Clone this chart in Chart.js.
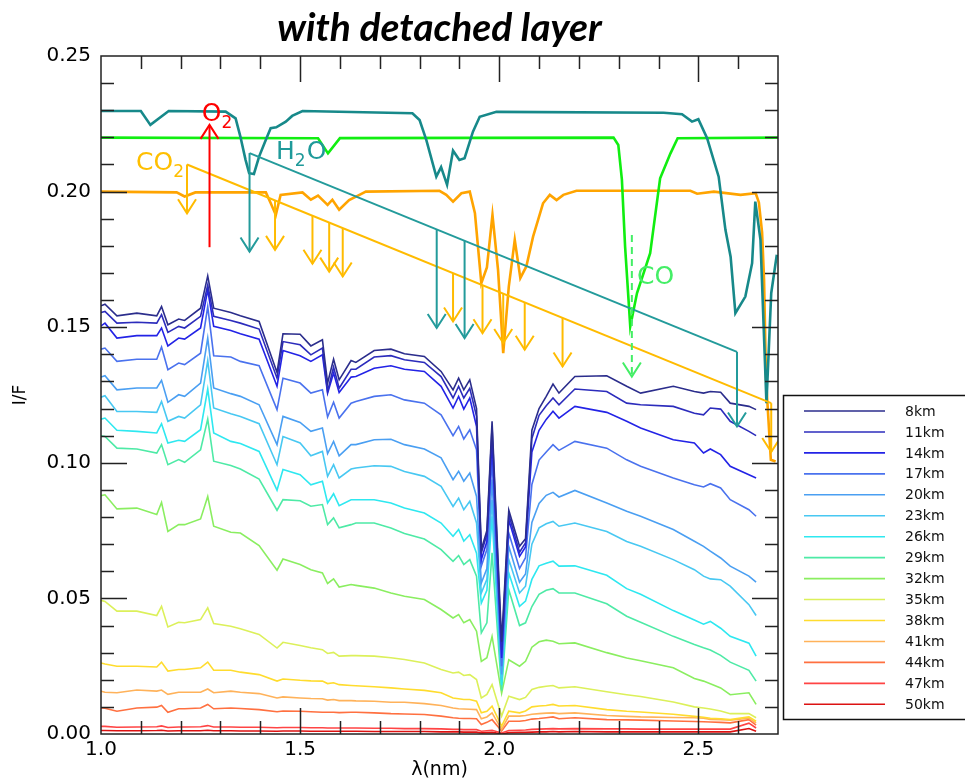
<!DOCTYPE html>
<html>
<head>
<meta charset="utf-8">
<title>with detached layer</title>
<script src="https://cdn.jsdelivr.net/npm/chart.js@4.4.1/dist/chart.umd.min.js"></script>
<style>
  html, body { margin: 0; padding: 0; background: #fff; }
  canvas { display: block; }
</style>
</head>
<body>
<canvas id="chart" width="965" height="781"></canvas>
<script>
// wavelength grid shared by all the altitude spectra
const wavelength = [
  1.000, 1.010, 1.040, 1.090, 1.140, 1.152, 1.168, 1.195, 1.210, 1.250,
  1.268, 1.283, 1.326, 1.350, 1.397, 1.442, 1.457, 1.500, 1.527, 1.556,
  1.569, 1.584, 1.598, 1.628, 1.640, 1.686, 1.728, 1.762, 1.812, 1.854,
  1.884, 1.898, 1.911, 1.926, 1.943, 1.955, 1.969, 1.982, 2.006, 2.024,
  2.051, 2.066, 2.082, 2.100, 2.118, 2.135, 2.150, 2.190, 2.270, 2.320,
  2.355, 2.437, 2.490, 2.513, 2.530, 2.556, 2.580, 2.627, 2.645];

const altitudes = ['8km', '11km', '14km', '17km', '20km', '23km', '26km', '29km',
  '32km', '35km', '38km', '41km', '44km', '47km', '50km'];

const lineColors = ['#2b2d8c', '#2c2cbc', '#2323e6', '#4a72ee', '#4a9ff2', '#48c8f2',
  '#2ee8f0', '#4eeaa6', '#8aee60', '#dcf05a', '#ffdc2e', '#ffb25a', '#ff7040', '#ff4444', '#dc1212'];

const s8 = [
  0.1579, 0.1585, 0.1542, 0.1552, 0.1542, 0.1576, 0.1509, 0.1530, 0.1525, 0.1570,
  0.1689, 0.1570, 0.1554, 0.1542, 0.1521, 0.1333, 0.1476, 0.1474, 0.1431, 0.1454,
  0.1294, 0.1382, 0.1306, 0.1377, 0.1370, 0.1414, 0.1419, 0.1402, 0.1392, 0.1337,
  0.1269, 0.1312, 0.1269, 0.1306, 0.1200, 0.0680, 0.0750, 0.1153, 0.0340, 0.0825,
  0.0692, 0.0720, 0.1120, 0.1200, 0.1245, 0.1290, 0.1257, 0.1318, 0.1321, 0.1282,
  0.1257, 0.1282, 0.1263, 0.1257, 0.1263, 0.1260, 0.1220, 0.1208, 0.1196];
const s11 = [
  0.1554, 0.1558, 0.1515, 0.1518, 0.1515, 0.1546, 0.1481, 0.1503, 0.1497, 0.1540,
  0.1656, 0.1540, 0.1525, 0.1515, 0.1493, 0.1312, 0.1447, 0.1435, 0.1398, 0.1423,
  0.1263, 0.1353, 0.1275, 0.1345, 0.1345, 0.1390, 0.1395, 0.1380, 0.1370, 0.1318,
  0.1239, 0.1282, 0.1239, 0.1275, 0.1171, 0.0668, 0.0735, 0.1134, 0.0310, 0.0809,
  0.0670, 0.0705, 0.1090, 0.1175, 0.1210, 0.1239, 0.1214, 0.1272, 0.1263, 0.1220,
  0.1214, 0.1208, 0.1183, 0.1177, 0.1202, 0.1198, 0.1153, 0.1116, 0.1100];
const s14 = [
  0.1505, 0.1515, 0.1460, 0.1469, 0.1469, 0.1497, 0.1431, 0.1460, 0.1456, 0.1497,
  0.1638, 0.1503, 0.1488, 0.1476, 0.1456, 0.1282, 0.1414, 0.1395, 0.1374, 0.1398,
  0.1257, 0.1331, 0.1259, 0.1316, 0.1318, 0.1349, 0.1358, 0.1345, 0.1337, 0.1282,
  0.1202, 0.1245, 0.1198, 0.1239, 0.1134, 0.0643, 0.0710, 0.1080, 0.0280, 0.0790,
  0.0655, 0.0690, 0.1040, 0.1120, 0.1160, 0.1190, 0.1165, 0.1208, 0.1186, 0.1153,
  0.1128, 0.1085, 0.1073, 0.1036, 0.1051, 0.1030, 0.0987, 0.0956, 0.0944];
const s17 = [
  0.1419, 0.1423, 0.1374, 0.1382, 0.1382, 0.1427, 0.1343, 0.1368, 0.1362, 0.1404,
  0.1576, 0.1395, 0.1390, 0.1374, 0.1358, 0.1196, 0.1312, 0.1294, 0.1257, 0.1269,
  0.1169, 0.1223, 0.1165, 0.1220, 0.1226, 0.1245, 0.1251, 0.1232, 0.1220, 0.1177,
  0.1100, 0.1134, 0.1088, 0.1122, 0.1048, 0.0619, 0.0680, 0.1012, 0.0250, 0.0741,
  0.0610, 0.0650, 0.0920, 0.1010, 0.1040, 0.1067, 0.1046, 0.1079, 0.1054, 0.1011,
  0.0987, 0.0944, 0.0919, 0.0911, 0.0923, 0.0907, 0.0864, 0.0827, 0.0803];
const s20 = [
  0.1316, 0.1321, 0.1269, 0.1276, 0.1276, 0.1304, 0.1223, 0.1251, 0.1245, 0.1294,
  0.1460, 0.1276, 0.1255, 0.1245, 0.1214, 0.1067, 0.1171, 0.1149, 0.1116, 0.1128,
  0.1034, 0.1079, 0.1026, 0.1067, 0.1067, 0.1085, 0.1087, 0.1067, 0.1051, 0.1018,
  0.0938, 0.0969, 0.0932, 0.0962, 0.0876, 0.0557, 0.0610, 0.0938, 0.0220, 0.0692,
  0.0560, 0.0590, 0.0780, 0.0850, 0.0880, 0.0891, 0.0874, 0.0898, 0.0852, 0.0821,
  0.0803, 0.0754, 0.0711, 0.0692, 0.0674, 0.0649, 0.0619, 0.0582, 0.0560];
const s23 = [
  0.1242, 0.1247, 0.1189, 0.1189, 0.1186, 0.1226, 0.1153, 0.1171, 0.1165, 0.1214,
  0.1377, 0.1202, 0.1181, 0.1171, 0.1144, 0.0993, 0.1097, 0.1073, 0.1026, 0.1042,
  0.0950, 0.0993, 0.0944, 0.0977, 0.0981, 0.0989, 0.0987, 0.0968, 0.0950, 0.0913,
  0.0839, 0.0870, 0.0827, 0.0858, 0.0778, 0.0520, 0.0570, 0.0864, 0.0200, 0.0643,
  0.0520, 0.0545, 0.0700, 0.0760, 0.0775, 0.0784, 0.0766, 0.0778, 0.0747, 0.0710,
  0.0692, 0.0643, 0.0606, 0.0582, 0.0572, 0.0569, 0.0545, 0.0477, 0.0437];
const s26 = [
  0.1161, 0.1165, 0.1120, 0.1116, 0.1110, 0.1144, 0.1073, 0.1083, 0.1079, 0.1122,
  0.1272, 0.1110, 0.1079, 0.1071, 0.1042, 0.0899, 0.0975, 0.0956, 0.0919, 0.0932,
  0.0852, 0.0886, 0.0842, 0.0864, 0.0864, 0.0864, 0.0852, 0.0833, 0.0815, 0.0778,
  0.0729, 0.0754, 0.0711, 0.0735, 0.0667, 0.0483, 0.0530, 0.0803, 0.0180, 0.0594,
  0.0471, 0.0490, 0.0570, 0.0620, 0.0630, 0.0637, 0.0619, 0.0620, 0.0585, 0.0536,
  0.0515, 0.0455, 0.0420, 0.0405, 0.0415, 0.0390, 0.0360, 0.0335, 0.0287];
const s29 = [
  0.1100, 0.1097, 0.1054, 0.1051, 0.1036, 0.1067, 0.0993, 0.1012, 0.1002, 0.1048,
  0.1161, 0.1006, 0.0990, 0.0977, 0.0940, 0.0825, 0.0864, 0.0860, 0.0840, 0.0846,
  0.0772, 0.0797, 0.0760, 0.0772, 0.0778, 0.0778, 0.0760, 0.0739, 0.0719, 0.0680,
  0.0637, 0.0658, 0.0625, 0.0643, 0.0582, 0.0373, 0.0410, 0.0668, 0.0160, 0.0532,
  0.0400, 0.0410, 0.0470, 0.0515, 0.0530, 0.0536, 0.0520, 0.0520, 0.0480, 0.0434,
  0.0412, 0.0360, 0.0330, 0.0318, 0.0310, 0.0290, 0.0265, 0.0235, 0.0195];
const s32 = [
  0.0879, 0.0882, 0.0830, 0.0833, 0.0809, 0.0854, 0.0747, 0.0772, 0.0772, 0.0793,
  0.0876, 0.0766, 0.0744, 0.0741, 0.0695, 0.0604, 0.0645, 0.0625, 0.0606, 0.0594,
  0.0555, 0.0572, 0.0542, 0.0551, 0.0548, 0.0538, 0.0520, 0.0508, 0.0496, 0.0459,
  0.0428, 0.0440, 0.0410, 0.0422, 0.0379, 0.0268, 0.0281, 0.0360, 0.0150, 0.0274,
  0.0250, 0.0268, 0.0320, 0.0340, 0.0346, 0.0342, 0.0333, 0.0336, 0.0300, 0.0280,
  0.0270, 0.0244, 0.0205, 0.0195, 0.0185, 0.0170, 0.0145, 0.0152, 0.0109];
const s35 = [
  0.0493, 0.0489, 0.0453, 0.0453, 0.0437, 0.0471, 0.0395, 0.0412, 0.0410, 0.0422,
  0.0465, 0.0407, 0.0397, 0.0388, 0.0367, 0.0317, 0.0338, 0.0326, 0.0318, 0.0311,
  0.0297, 0.0301, 0.0287, 0.0289, 0.0289, 0.0287, 0.0281, 0.0275, 0.0262, 0.0238,
  0.0225, 0.0228, 0.0216, 0.0219, 0.0201, 0.0133, 0.0146, 0.0182, 0.0066, 0.0139,
  0.0127, 0.0135, 0.0164, 0.0172, 0.0176, 0.0179, 0.0170, 0.0174, 0.0156, 0.0145,
  0.0138, 0.0118, 0.0100, 0.0096, 0.0092, 0.0085, 0.0075, 0.0075, 0.0060];
const s38 = [
  0.0262, 0.0258, 0.0250, 0.0250, 0.0247, 0.0265, 0.0232, 0.0238, 0.0238, 0.0244,
  0.0265, 0.0235, 0.0235, 0.0228, 0.0219, 0.0195, 0.0203, 0.0198, 0.0196, 0.0195,
  0.0186, 0.0189, 0.0182, 0.0179, 0.0178, 0.0174, 0.0170, 0.0166, 0.0161, 0.0152,
  0.0133, 0.0130, 0.0127, 0.0127, 0.0121, 0.0078, 0.0084, 0.0103, 0.0029, 0.0084,
  0.0078, 0.0085, 0.0100, 0.0103, 0.0105, 0.0109, 0.0103, 0.0105, 0.0090, 0.0084,
  0.0081, 0.0073, 0.0065, 0.0062, 0.0058, 0.0056, 0.0053, 0.0063, 0.0047];
const s41 = [
  0.0158, 0.0154, 0.0152, 0.0162, 0.0158, 0.0162, 0.0146, 0.0154, 0.0154, 0.0154,
  0.0166, 0.0152, 0.0158, 0.0154, 0.0149, 0.0133, 0.0137, 0.0133, 0.0131, 0.0130,
  0.0125, 0.0127, 0.0123, 0.0123, 0.0122, 0.0121, 0.0117, 0.0117, 0.0112, 0.0105,
  0.0096, 0.0093, 0.0092, 0.0091, 0.0090, 0.0056, 0.0063, 0.0078, 0.0017, 0.0066,
  0.0066, 0.0068, 0.0073, 0.0075, 0.0077, 0.0078, 0.0075, 0.0078, 0.0068, 0.0065,
  0.0063, 0.0061, 0.0060, 0.0058, 0.0054, 0.0053, 0.0051, 0.0058, 0.0041];
const s44 = [
  0.0096, 0.0095, 0.0084, 0.0096, 0.0099, 0.0105, 0.0080, 0.0093, 0.0093, 0.0096,
  0.0109, 0.0093, 0.0096, 0.0094, 0.0090, 0.0082, 0.0085, 0.0084, 0.0082, 0.0080,
  0.0080, 0.0080, 0.0079, 0.0080, 0.0080, 0.0078, 0.0075, 0.0074, 0.0072, 0.0066,
  0.0060, 0.0058, 0.0057, 0.0057, 0.0056, 0.0035, 0.0043, 0.0053, 0.0011, 0.0047,
  0.0047, 0.0050, 0.0055, 0.0057, 0.0060, 0.0063, 0.0056, 0.0060, 0.0053, 0.0052,
  0.0051, 0.0048, 0.0046, 0.0045, 0.0044, 0.0043, 0.0041, 0.0053, 0.0033];
const s47 = [
  0.0028, 0.0028, 0.0025, 0.0026, 0.0027, 0.0030, 0.0024, 0.0026, 0.0026, 0.0027,
  0.0031, 0.0026, 0.0026, 0.0025, 0.0025, 0.0023, 0.0024, 0.0024, 0.0023, 0.0023,
  0.0022, 0.0022, 0.0022, 0.0022, 0.0022, 0.0021, 0.0021, 0.0020, 0.0020, 0.0019,
  0.0017, 0.0017, 0.0016, 0.0016, 0.0016, 0.0010, 0.0012, 0.0014, 0.0004, 0.0013,
  0.0014, 0.0015, 0.0017, 0.0018, 0.0019, 0.0020, 0.0019, 0.0020, 0.0019, 0.0019,
  0.0018, 0.0018, 0.0018, 0.0018, 0.0018, 0.0018, 0.0018, 0.0040, 0.0022];
const s50 = [
  0.0013, 0.0013, 0.0012, 0.0012, 0.0013, 0.0014, 0.0011, 0.0012, 0.0012, 0.0012,
  0.0014, 0.0012, 0.0012, 0.0011, 0.0011, 0.0010, 0.0011, 0.0011, 0.0010, 0.0010,
  0.0010, 0.0010, 0.0010, 0.0010, 0.0010, 0.0009, 0.0009, 0.0009, 0.0009, 0.0008,
  0.0008, 0.0008, 0.0007, 0.0007, 0.0007, 0.0004, 0.0005, 0.0006, 0.0001, 0.0005,
  0.0006, 0.0006, 0.0007, 0.0008, 0.0008, 0.0009, 0.0008, 0.0009, 0.0008, 0.0008,
  0.0008, 0.0008, 0.0008, 0.0008, 0.0008, 0.0008, 0.0008, 0.0020, 0.0010];

const spectra = [s8, s11, s14, s17, s20, s23, s26, s29, s32, s35, s38, s41, s44, s47, s50];

// gas transmission curves drawn at the top (scaled/offset)
const h2oX = [1.000, 1.100, 1.124, 1.170, 1.313, 1.338, 1.350, 1.363, 1.372, 1.384, 1.397, 1.414, 1.426, 1.440, 1.464,
  1.480, 1.506, 1.782, 1.800, 1.817, 1.842, 1.854, 1.869, 1.884, 1.900, 1.913, 1.934, 1.951, 1.993, 2.413,
  2.459, 2.484, 2.500, 2.522, 2.551, 2.568, 2.581, 2.593, 2.618, 2.635, 2.643, 2.656, 2.671, 2.683, 2.697];
const h2oY = [0.2297, 0.2297, 0.2246, 0.2297, 0.2295, 0.2270, 0.2203, 0.2117, 0.2068, 0.2065, 0.2129, 0.2191, 0.2234, 0.2237, 0.2258,
  0.2279, 0.2297, 0.2289, 0.2264, 0.2190, 0.2055, 0.2090, 0.2025, 0.2151, 0.2117, 0.2123, 0.2221, 0.2276, 0.2294, 0.2291,
  0.2285, 0.2258, 0.2267, 0.2197, 0.2055, 0.1859, 0.1760, 0.1552, 0.1613, 0.1736, 0.1963, 0.1822, 0.1220, 0.1626, 0.1767];

const coX = [1.000, 1.545, 1.570, 1.600, 2.287, 2.299, 2.308, 2.316, 2.329, 2.346, 2.379, 2.404, 2.430, 2.448, 2.700];
const coY = [0.2199, 0.2197, 0.2141, 0.2197, 0.2199, 0.2172, 0.2044, 0.1798, 0.1503, 0.1626, 0.1773, 0.2049, 0.2141, 0.2197, 0.2199];

const co2X = [1.000, 1.190, 1.210, 1.237, 1.414, 1.426, 1.439, 1.451, 1.506, 1.527, 1.545, 1.569, 1.581, 1.598, 1.623,
  1.649, 1.665, 1.850, 1.867, 1.884, 1.905, 1.926, 1.939, 1.955, 1.969, 1.983, 1.997, 2.010, 2.024, 2.039,
  2.053, 2.068, 2.085, 2.110, 2.127, 2.144, 2.161, 2.194, 2.480, 2.497, 2.539, 2.606, 2.644, 2.652, 2.660,
  2.665, 2.670, 2.682, 2.694];
const co2Y = [0.2000, 0.1997, 0.1982, 0.1997, 0.1997, 0.1958, 0.1914, 0.1988, 0.1997, 0.1970, 0.1985, 0.1951, 0.1970, 0.1933, 0.1969,
  0.1988, 0.2000, 0.2003, 0.1988, 0.1963, 0.1994, 0.2000, 0.1920, 0.1662, 0.1720, 0.1914, 0.1711, 0.1404, 0.1650, 0.1822,
  0.1681, 0.1724, 0.1834, 0.1957, 0.1988, 0.1969, 0.1988, 0.2003, 0.2003, 0.1992, 0.2000, 0.1988, 0.1994, 0.1960, 0.1850,
  0.1675, 0.1306, 0.1011, 0.1005];

// annotation arrows (wavelength, arrow tip value)
const co2GuideX = [1.216, 2.683];
const co2GuideY = [0.2100, 0.1220];
const co2ArrowX = [1.216, 1.437, 1.531, 1.573, 1.607, 1.884, 1.958, 2.010, 2.064, 2.159, 2.683];
const co2ArrowTip = [0.1920, 0.1785, 0.1734, 0.1705, 0.1687, 0.1521, 0.1478, 0.1442, 0.1417, 0.1355, 0.1040];
const h2oGuideX = [1.373, 2.597];
const h2oGuideY = [0.2142, 0.1409];
const h2oArrowX = [1.373, 1.843, 1.913, 2.597];
const h2oArrowTip = [0.1779, 0.1497, 0.1460, 0.1134];
const coArrow = { x: 2.333, from: 0.1840, to: 0.1318 };
const o2Arrow = { x: 1.2725, from: 0.1795, to: 0.2246 };

const xTicks = [1.0, 1.5, 2.0, 2.5];
const yTicks = [0, 0.05, 0.10, 0.15, 0.20, 0.25];

Chart.defaults.font.family = "'DejaVu Sans', sans-serif";

const toPoints = (xs, ys) => xs.map((v, i) => ({ x: v, y: ys[i] }));

const datasets = altitudes.map((name, i) => ({
    label: name,
    data: toPoints(wavelength, spectra[i]),
    borderColor: lineColors[i],
    borderWidth: 1.6
}));
datasets.push({ label: 'H2O', data: toPoints(h2oX, h2oY), borderColor: '#17898a', borderWidth: 2.6 });
datasets.push({ label: 'CO', data: toPoints(coX, coY), borderColor: '#11ee11', borderWidth: 2.6 });
datasets.push({ label: 'CO2', data: toPoints(co2X, co2Y), borderColor: '#ffa400', borderWidth: 2.6 });

function guideAt(xs, ys, w) {
    return ys[0] + (ys[1] - ys[0]) * (w - xs[0]) / (xs[1] - xs[0]);
}

function arrow(ctx, x0, y0, x1, y1, color, dashed) {
    ctx.save();
    ctx.strokeStyle = color;
    ctx.lineWidth = 2;
    if (dashed) ctx.setLineDash([7, 5]);
    ctx.beginPath();
    ctx.moveTo(x0, y0);
    ctx.lineTo(x1, y1);
    ctx.stroke();
    ctx.setLineDash([]);
    const dir = y1 > y0 ? 1 : -1;
    ctx.beginPath();
    ctx.moveTo(x1 - 9, y1 - 14 * dir);
    ctx.lineTo(x1, y1);
    ctx.lineTo(x1 + 9, y1 - 14 * dir);
    ctx.stroke();
    ctx.restore();
}

// text with subscript parts, e.g. [['CO', 0], ['2', 1]]
function chemLabel(ctx, parts, x0, y0, color) {
    ctx.save();
    ctx.fillStyle = color;
    ctx.textBaseline = 'alphabetic';
    ctx.textAlign = 'left';
    let cx = x0;
    parts.forEach(([t, sub]) => {
        ctx.font = sub ? "17px 'DejaVu Sans'" : "25px 'DejaVu Sans'";
        ctx.fillText(t, cx, sub ? y0 + 7 : y0);
        cx += ctx.measureText(t).width + (sub ? 1 : 0);
    });
    ctx.restore();
}

const decorations = {
    id: 'decorations',
    afterDatasetsDraw(chart) {
        const { ctx, chartArea: a, scales: { x, y } } = chart;
        const px = v => x.getPixelForValue(v);
        const py = v => y.getPixelForValue(v);

        ctx.save();
        ctx.beginPath();
        ctx.rect(a.left, a.top, a.width, a.height);
        ctx.clip();

        // CO2 guide and arrows
        ctx.strokeStyle = '#ffbb00';
        ctx.lineWidth = 2;
        ctx.beginPath();
        ctx.moveTo(px(co2GuideX[0]), py(co2GuideY[0]));
        ctx.lineTo(px(co2GuideX[1]), py(co2GuideY[1]));
        ctx.stroke();
        co2ArrowX.forEach((w, i) => {
            arrow(ctx, px(w), py(guideAt(co2GuideX, co2GuideY, w)), px(w), py(co2ArrowTip[i]), '#ffbb00', false);
        });

        // H2O guide and arrows
        ctx.strokeStyle = '#239b9b';
        ctx.lineWidth = 2;
        ctx.beginPath();
        ctx.moveTo(px(h2oGuideX[0]), py(h2oGuideY[0]));
        ctx.lineTo(px(h2oGuideX[1]), py(h2oGuideY[1]));
        ctx.stroke();
        h2oArrowX.forEach((w, i) => {
            arrow(ctx, px(w), py(guideAt(h2oGuideX, h2oGuideY, w)), px(w), py(h2oArrowTip[i]), '#239b9b', false);
        });

        arrow(ctx, px(coArrow.x), py(coArrow.from), px(coArrow.x), py(coArrow.to), '#44ee66', true);
        arrow(ctx, px(o2Arrow.x), py(o2Arrow.from), px(o2Arrow.x), py(o2Arrow.to), '#ff0000', false);
        ctx.restore();

        chemLabel(ctx, [['O', 0], ['2', 1]], px(1.253), py(0.2260), '#ff0000');
        chemLabel(ctx, [['CO', 0], ['2', 1]], px(1.088), py(0.2080), '#ffbf00');
        chemLabel(ctx, [['H', 0], ['2', 1], ['O', 0]], px(1.4395), py(0.2119), '#1f9a9a');
        chemLabel(ctx, [['CO', 0]], px(2.346), py(0.1660), '#44ee66');

        // frame and inward ticks on all four sides
        ctx.save();
        ctx.strokeStyle = '#222';
        ctx.lineWidth = 1.5;
        ctx.strokeRect(a.left, a.top, a.width, a.height);
        ctx.beginPath();
        for (let k = 1; k < 17; k++) {
            const w = 1 + k / 10;
            const len = k % 5 === 0 ? 26 : 13;
            const xx = Math.round(px(w)) + 0.5;
            ctx.moveTo(xx, a.bottom); ctx.lineTo(xx, a.bottom - len);
            ctx.moveTo(xx, a.top); ctx.lineTo(xx, a.top + len);
        }
        for (let k = 1; k < 25; k++) {
            const v = k / 100;
            const len = k % 5 === 0 ? 26 : 13;
            const yy = Math.round(py(v)) + 0.5;
            ctx.moveTo(a.left, yy); ctx.lineTo(a.left + len, yy);
            ctx.moveTo(a.right, yy); ctx.lineTo(a.right - len, yy);
        }
        ctx.stroke();
        ctx.restore();
    },
    afterDraw(chart) {
        const { ctx, chartArea: a } = chart;
        ctx.save();
        ctx.fillStyle = '#000';
        ctx.textAlign = 'center';
        ctx.textBaseline = 'middle';
        ctx.font = "italic bold 39px Lato";
        ctx.fillText('with detached layer', (a.left + a.right) / 2, 28);

        ctx.font = "19px 'DejaVu Sans'";
        ctx.fillText('\u03bb(nm)', (a.left + a.right) / 2, 770);
        ctx.save();
        ctx.translate(21, (a.top + a.bottom) / 2);
        ctx.rotate(-Math.PI / 2);
        ctx.font = "17px 'DejaVu Sans'";
        ctx.fillText('I/F', 0, 0);
        ctx.restore();

        // legend box
        ctx.strokeStyle = '#111';
        ctx.lineWidth = 1.5;
        ctx.strokeRect(783.5, 395.5, 200, 324);
        ctx.font = "14px 'DejaVu Sans'";
        ctx.textAlign = 'left';
        altitudes.forEach((name, i) => {
            const yy = 411 + i * 20.95;
            ctx.strokeStyle = lineColors[i];
            ctx.lineWidth = 1.6;
            ctx.beginPath();
            ctx.moveTo(804, yy);
            ctx.lineTo(885, yy);
            ctx.stroke();
            ctx.fillStyle = '#111';
            ctx.fillText(name, 905, yy + 1);
        });
        ctx.restore();
    }
};

new Chart(document.getElementById('chart'), {
    type: 'line',
    data: { datasets },
    options: {
        responsive: false,
        animation: false,
        devicePixelRatio: 1,
        layout: { padding: { left: 0, top: 56, right: 187, bottom: 0 } },
        elements: { point: { radius: 0 }, line: { tension: 0, fill: false } },
        plugins: { legend: { display: false }, tooltip: { enabled: false }, title: { display: false } },
        scales: {
            x: {
                type: 'linear',
                min: 1.0,
                max: 2.7,
                grid: { display: false, drawTicks: false },
                border: { display: false },
                afterFit: s => { s.height = 47; },
                afterBuildTicks: s => { s.ticks = xTicks.map(v => ({ value: v })); },
                ticks: { padding: 4, color: '#000', font: { size: 20 }, maxRotation: 0, autoSkip: false,
                    callback: v => v.toFixed(1) }
            },
            y: {
                type: 'linear',
                min: 0,
                max: 0.25,
                grid: { display: false, drawTicks: false },
                border: { display: false },
                afterFit: s => { s.width = 101; },
                afterBuildTicks: s => { s.ticks = yTicks.map(v => ({ value: v })); },
                ticks: { padding: 10, color: '#000', font: { size: 20 }, autoSkip: false,
                    callback: v => v.toFixed(2) }
            }
        }
    },
    plugins: [decorations]
});
</script>
</body>
</html>
